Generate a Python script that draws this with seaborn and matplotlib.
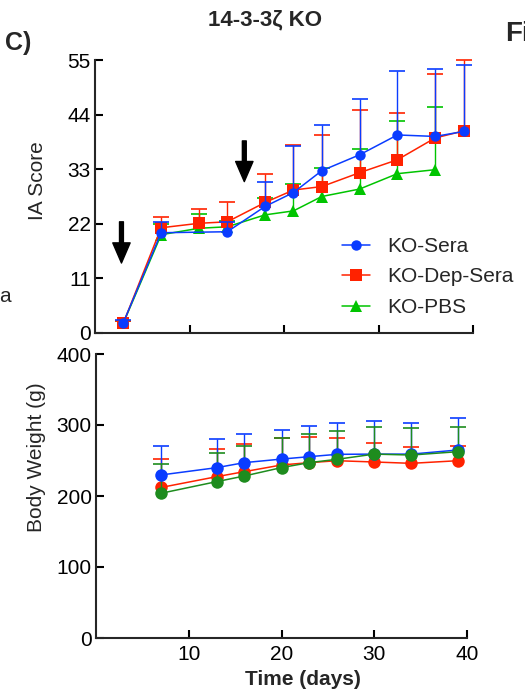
import numpy as np
import pandas as pd
import seaborn as sns
import matplotlib
matplotlib.use("Agg")
import matplotlib.pyplot as plt

# IA score (top panel)
ia_days_sera = [3, 7, 14, 18, 21, 24, 28, 32, 36, 39]
ia_sera = [2.1, 20.2, 20.4, 25.5, 28.3, 32.7, 35.9, 39.9, 39.6, 40.6]
ia_sera_up = [2.6, 22.4, 22.4, 30.4, 37.6, 41.9, 47.2, 52.7, 53.2, 54.0]

ia_days_dep = [3, 7, 11, 14, 18, 21, 24, 28, 32, 36, 39]
ia_dep = [2.0, 21.2, 22.1, 22.4, 26.3, 28.8, 29.5, 32.3, 34.9, 39.3, 40.7]
ia_dep_up = [2.5, 23.4, 25.0, 26.3, 32.1, 37.9, 39.8, 45.0, 44.4, 52.2, 54.9]

ia_days_pbs = [3, 7, 11, 14, 18, 21, 24, 28, 32, 36]
ia_pbs = [2.0, 19.8, 21.1, 21.4, 23.8, 24.6, 27.5, 29.0, 32.1, 32.9]
ia_pbs_up = [2.4, 22.0, 23.9, 22.5, 27.2, 30.0, 33.3, 37.0, 42.7, 45.6]

# body weight (bottom panel)
bw_days = [7, 13, 16, 20, 23, 26, 30, 34, 39]
bw_sera = [229.6, 239.9, 247.0, 252.0, 255.4, 258.7, 259.0, 259.0, 264.8]
bw_sera_up = [270.4, 279.8, 287.3, 293.0, 298.6, 303.3, 305.6, 303.3, 309.4]
bw_dep = [212.0, 227.2, 234.3, 243.7, 247.0, 249.7, 247.9, 246.0, 249.7]
bw_dep_up = [252.0, 265.7, 272.8, 282.0, 283.5, 281.2, 274.0, 269.4, 270.4]
bw_pbs = [203.8, 220.2, 228.2, 240.0, 247.0, 251.7, 259.0, 257.7, 262.4]
bw_pbs_up = [244.6, 261.0, 270.4, 281.0, 286.9, 292.0, 297.6, 295.3, 296.7]

labels = ["KO-Sera", "KO-Dep-Sera", "KO-PBS"]
blue, red, green, dgreen = "#0a3cff", "#ff2200", "#00c400", "#1e8c1e"

sns.set_theme(style="ticks")
plt.rcParams["font.family"] = ["Liberation Sans", "DejaVu Sans"]
plt.rcParams["axes.linewidth"] = 1.5

fig = plt.figure(figsize=(5.25, 6.97), dpi=100)
ax1 = fig.add_axes([95 / 525, 364 / 697, 378 / 525, 273 / 697])
ax2 = fig.add_axes([96 / 525, 59 / 697, 371 / 525, 284 / 697])


def draw(ax, x, y, up, color, marker, ms, label, z):
    x = np.array(x)
    y = np.array(y)
    up = np.array(up)
    eb = ax.errorbar(x, y, yerr=[np.zeros_like(y), up - y], fmt="none",
                     ecolor=color, elinewidth=1.0, capsize=5.5, capthick=1.2,
                     zorder=z, clip_on=False)
    eb[1][0].set_visible(False)  # hide lower caps
    df = pd.DataFrame({"day": x, "val": y})
    sns.lineplot(data=df, x="day", y="val", ax=ax, color=color, marker=marker,
                 markersize=ms, markeredgewidth=0, linewidth=1.1, label=label,
                 zorder=z + 0.5, clip_on=False, legend=False)


# top panel
draw(ax1, ia_days_pbs, ia_pbs, ia_pbs_up, green, "^", 8, labels[2], 2)
draw(ax1, ia_days_dep, ia_dep, ia_dep_up, red, "s", 8.5, labels[1], 3)
draw(ax1, ia_days_sera, ia_sera, ia_sera_up, blue, "o", 7.5, labels[0], 4)

ax1.set_xlim(0, 40)
ax1.set_ylim(0, 55)
ax1.set_yticks([0, 11, 22, 33, 44, 55])
ax1.set_xticks([10, 20, 30, 40])
ax1.set_xticklabels([])
ax1.set_xlabel("")
ax1.set_ylabel("IA Score", fontsize=15)
ax1.yaxis.set_label_coords(-0.127, 0.557)

# arrows marking injections
for ax_x, y0, y1 in [(2.8, 22.4, 14.1), (15.8, 38.7, 30.5)]:
    ax1.annotate("", xy=(ax_x, y1), xytext=(ax_x, y0),
                 arrowprops=dict(facecolor="black", edgecolor="black",
                                 width=2.8, headwidth=12.5, headlength=14.5,
                                 shrink=0))

h, l = ax1.get_legend_handles_labels()
order = [l.index(k) for k in labels]
ax1.legend([h[i] for i in order], [l[i] for i in order], frameon=False,
           fontsize=15, loc="center left", bbox_to_anchor=(342 / 525, 1 - 277 / 697),
           bbox_transform=fig.transFigure, borderpad=0, borderaxespad=0,
           handlelength=1.35, handletextpad=0.8, labelspacing=0.55)

# bottom panel
draw(ax2, bw_days, bw_dep, bw_dep_up, red, "o", 9, labels[1], 2)
draw(ax2, bw_days, bw_pbs, bw_pbs_up, dgreen, "o", 9, labels[2], 3)
draw(ax2, bw_days, bw_sera, bw_sera_up, blue, "o", 9, labels[0], 2.6)

ax2.set_xlim(0, 40)
ax2.set_ylim(0, 400)
ax2.set_yticks([0, 100, 200, 300, 400])
ax2.set_xticks([10, 20, 30, 40])
ax2.set_ylabel("Body Weight (g)", fontsize=15)
ax2.yaxis.set_label_coords(-0.135, 0.637)
ax2.set_xlabel("Time (days)", fontsize=15, fontweight="bold")
ax2.xaxis.set_label_coords(0.558, -0.112)

for ax in (ax1, ax2):
    sns.despine(ax=ax)
    ax.spines["left"].set_linewidth(1.5)
    ax.spines["bottom"].set_linewidth(1.5)
    ax.tick_params(direction="in", length=6, width=1.5, labelsize=15, pad=3,
                   colors="black")
    ax.tick_params(axis="x", pad=5)
    ax.patch.set_visible(False)

fig.text(265 / 525, 1 - 20 / 697, "14-3-3ζ KO", fontsize=16, fontweight="bold",
         ha="center", va="center")
fig.text(5 / 525, 1 - 43 / 697, "C)", fontsize=18, fontweight="bold",
         ha="left", va="center")
fig.text(505 / 525, 1 - 34 / 697, "Fi", fontsize=20, fontweight="bold",
         ha="left", va="center")
fig.text(-1 / 525, 1 - 296 / 697, "a", fontsize=15, ha="left", va="center")

fig.savefig("out.png", dpi=100)
